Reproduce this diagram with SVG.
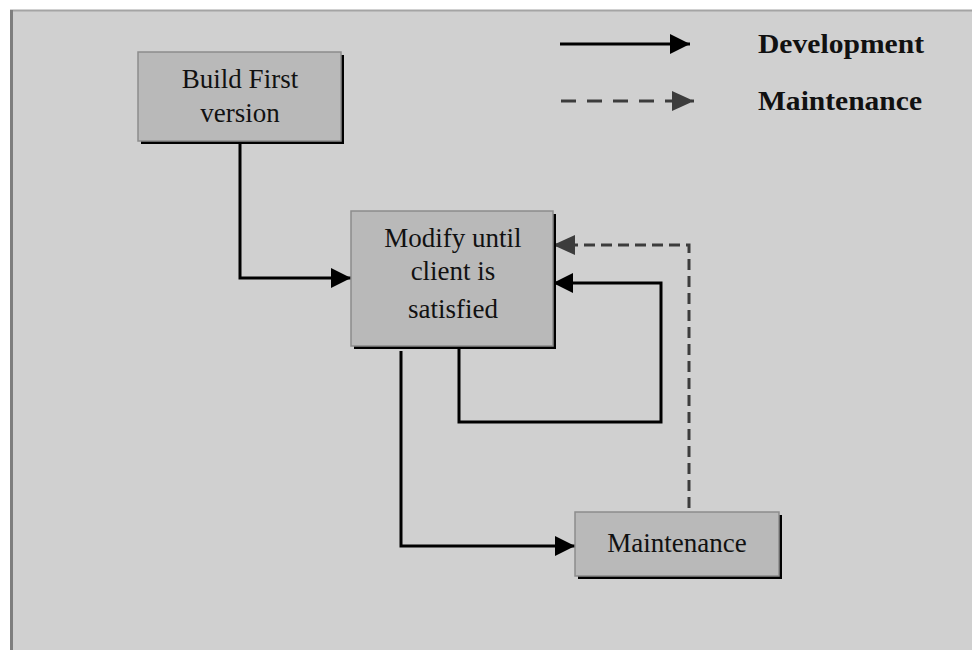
<svg xmlns="http://www.w3.org/2000/svg" width="972" height="650" viewBox="0 0 972 650">
  <defs>
    <marker id="arrowSolid" viewBox="0 0 20 20" refX="20" refY="10" markerWidth="20" markerHeight="20" markerUnits="userSpaceOnUse" orient="auto">
      <path d="M0,0 L20,10 L0,20 Z" fill="#000"/>
    </marker>
    <marker id="arrowDash" viewBox="0 0 22 20" refX="22" refY="10" markerWidth="22" markerHeight="20" markerUnits="userSpaceOnUse" orient="auto">
      <path d="M0,0 L22,10 L0,20 Z" fill="#3c3c3c"/>
    </marker>
  </defs>
  <style>
    .box { fill: #b9b9b9; stroke: #8c8c8c; stroke-width: 1.5; }
    .shadow { fill: #000; }
    .label { font-family: "Liberation Serif", "Times New Roman", serif; font-size: 27px; fill: #111; text-anchor: middle; }
    .legend { font-family: "Liberation Serif", "Times New Roman", serif; font-size: 27px; font-weight: bold; fill: #111; }
    .dev { fill: none; stroke: #000; stroke-width: 3; }
    .maint { fill: none; stroke: #3c3c3c; stroke-width: 3; stroke-dasharray: 11 6; }
  </style>

  <!-- page and panel -->
  <rect x="0" y="0" width="972" height="650" fill="#ffffff"/>
  <rect x="10" y="10" width="962" height="640" fill="#d0d0d0"/>
  <line x1="10" y1="10.5" x2="972" y2="10.5" stroke="#a4a4a4" stroke-width="2"/>
  <line x1="11.5" y1="10" x2="11.5" y2="650" stroke="#7e7e7e" stroke-width="3"/>

  <!-- legend -->
  <g id="legend">
    <line x1="560" y1="44" x2="690" y2="44" class="dev" marker-end="url(#arrowSolid)"/>
    <line x1="561" y1="101" x2="694" y2="101" stroke="#3c3c3c" stroke-width="3" stroke-dasharray="15 11" marker-end="url(#arrowDash)"/>
    <text x="758" y="53" class="legend" textLength="166" lengthAdjust="spacingAndGlyphs">Development</text>
    <text x="758" y="110" class="legend" textLength="164" lengthAdjust="spacingAndGlyphs">Maintenance</text>
  </g>

  <!-- connectors -->
  <g id="connectors">
    <polyline points="240,142 240,278 351,278" class="dev" marker-end="url(#arrowSolid)"/>
    <polyline points="459,349 459,422 661,422 661,283 553,283" class="dev" marker-end="url(#arrowSolid)"/>
    <polyline points="401,351 401,546 575,546" class="dev" marker-end="url(#arrowSolid)"/>
    <polyline points="689,508 689,245 553,245" class="maint" marker-end="url(#arrowDash)"/>
  </g>

  <!-- nodes -->
  <g id="build-first">
    <rect x="141" y="55" width="203" height="89" class="shadow"/>
    <rect x="138" y="52" width="203" height="89" class="box"/>
    <text x="240" y="88" class="label">Build First</text>
    <text x="240" y="122" class="label">version</text>
  </g>

  <g id="modify">
    <rect x="354" y="214" width="202" height="135" class="shadow"/>
    <rect x="351" y="211" width="202" height="135" class="box"/>
    <text x="453" y="247" class="label">Modify until</text>
    <text x="453" y="280" class="label">client is</text>
    <text x="453" y="318" class="label">satisfied</text>
  </g>

  <g id="maintenance">
    <rect x="578" y="515" width="204" height="64" class="shadow"/>
    <rect x="575" y="512" width="204" height="64" class="box"/>
    <text x="677" y="552" class="label">Maintenance</text>
  </g>
</svg>
